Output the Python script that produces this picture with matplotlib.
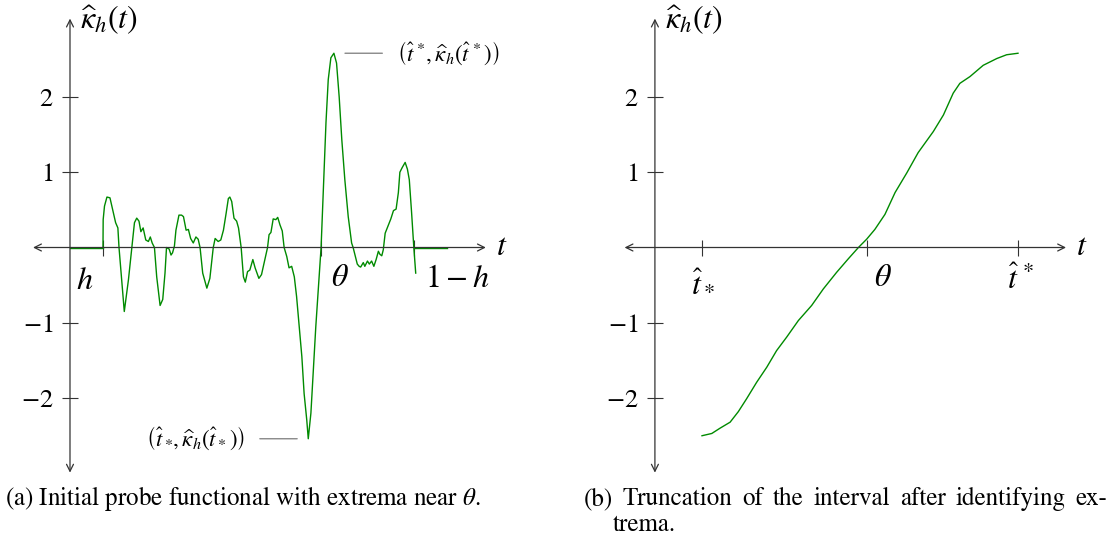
import numpy as np
import matplotlib
matplotlib.use('Agg')
import matplotlib.pyplot as plt

plt.rcParams['mathtext.fontset'] = 'stix'
plt.rcParams['font.family'] = 'STIXGeneral'

# dati (a): t in [0, 1]
h = 0.0875
theta = 0.666
t_a = [0.0875, 0.088, 0.0915, 0.098, 0.106, 0.115, 0.121, 0.127, 0.130, 0.137, 0.144,
       0.155, 0.164, 0.171, 0.177, 0.183, 0.188, 0.194, 0.201, 0.208, 0.213, 0.218,
       0.224, 0.230, 0.239, 0.246, 0.252, 0.256, 0.263, 0.268, 0.272, 0.277, 0.281,
       0.289, 0.296, 0.301, 0.308, 0.314, 0.320, 0.327, 0.334, 0.340, 0.345, 0.352,
       0.363, 0.371, 0.380, 0.385, 0.393, 0.400, 0.407, 0.414, 0.420, 0.424, 0.429,
       0.435, 0.442, 0.447, 0.454, 0.460, 0.465, 0.471, 0.477, 0.485, 0.491, 0.501,
       0.508, 0.517, 0.524, 0.528, 0.533, 0.539, 0.546, 0.551, 0.557, 0.563, 0.568,
       0.575, 0.581, 0.588, 0.595, 0.601, 0.607, 0.615, 0.621, 0.628, 0.632, 0.639,
       0.645, 0.652, 0.659, 0.666, 0.672, 0.679, 0.685, 0.692, 0.700, 0.707, 0.714,
       0.721, 0.729, 0.738, 0.747, 0.751, 0.757, 0.762, 0.767, 0.771, 0.778, 0.782,
       0.789, 0.794, 0.800, 0.806, 0.812, 0.818, 0.822, 0.827, 0.831, 0.836, 0.844,
       0.851, 0.858, 0.865, 0.871, 0.875, 0.881, 0.889, 0.895, 0.900, 0.906, 0.912,
       0.917]
k_a = [0.0, 0.37, 0.55, 0.67, 0.66, 0.46, 0.33, 0.26, 0.0, -0.43, -0.85,
       -0.43, 0.0, 0.33, 0.39, 0.35, 0.21, 0.26, 0.10, 0.08, 0.14, 0.06,
       0.0, -0.39, -0.77, -0.69, -0.34, 0.0, -0.02, -0.10, -0.07, 0.02, 0.23,
       0.43, 0.43, 0.41, 0.23, 0.24, 0.12, 0.06, 0.14, 0.11, 0.0, -0.34,
       -0.54, -0.41, 0.0, 0.12, 0.08, 0.10, 0.23, 0.45, 0.65, 0.67, 0.61,
       0.39, 0.35, 0.26, 0.0, -0.39, -0.46, -0.32, -0.30, -0.16, -0.27, -0.41,
       -0.36, -0.16, 0.0, 0.17, 0.20, 0.38, 0.37, 0.40, 0.30, 0.22, 0.0,
       -0.12, -0.27, -0.25, -0.39, -0.65, -1.00, -1.45, -1.94, -2.29, -2.54, -2.20,
       -1.67, -1.05, -0.52, 0.0, 0.77, 1.66, 2.23, 2.52, 2.58, 2.45, 2.00,
       1.43, 0.90, 0.41, 0.06, 0.0, -0.12, -0.22, -0.25, -0.26, -0.20, -0.25,
       -0.18, -0.22, -0.18, -0.25, -0.16, -0.05, -0.09, -0.11, -0.03, 0.19, 0.29,
       0.38, 0.49, 0.51, 0.73, 1.00, 1.06, 1.13, 1.04, 0.90, 0.47, 0.0,
       -0.34]

# dati del grafico (b): posizione relativa in [t_*, t^*]
theta_b = 0.522
s_b = [0.0, 0.031, 0.057, 0.089, 0.115, 0.141, 0.173, 0.205, 0.236, 0.268, 0.305,
       0.347, 0.384, 0.426, 0.463, 0.495, 0.521, 0.547, 0.579, 0.611, 0.648, 0.684,
       0.732, 0.764, 0.795, 0.816, 0.848, 0.890, 0.933, 0.964, 1.0]
k_b = [-2.50, -2.47, -2.40, -2.32, -2.18, -2.01, -1.79, -1.59, -1.37, -1.19, -0.97,
       -0.77, -0.55, -0.33, -0.15, 0.0, 0.11, 0.24, 0.44, 0.73, 0.99, 1.26,
       1.54, 1.76, 2.05, 2.18, 2.27, 2.42, 2.51, 2.56, 2.58]

yticks = [-2, -1, 1, 2]
ytick_labels = [r'$-2$', r'$-1$', r'$1$', r'$2$']

verde = '#008a00'
nero = '#333333'
freccia = dict(arrowstyle='<->,head_length=0.5,head_width=0.25', lw=0.9,
               color=nero, shrinkA=0, shrinkB=0)

fig = plt.figure(figsize=(11.15, 5.45), dpi=100)
ax1 = fig.add_axes([0.01206, 0.09688, 0.45646, 0.89798])
ax2 = fig.add_axes([0.54457, 0.09688, 0.45345, 0.89798])

def assi(ax, x0, xlo, xhi, xticks):
    ax.set_ylim(-3.25, 3.25)
    for sp in ax.spines.values():
        sp.set_visible(False)
    ax.spines['left'].set_position(('data', x0))
    ax.spines['bottom'].set_position(('data', 0))
    ax.set_xticks(xticks)
    ax.set_xticklabels([])
    ax.set_yticks(yticks, ytick_labels, fontsize=19)
    ax.tick_params(direction='inout', length=11.5, width=0.8, color=nero, pad=6)
    ax.annotate('', xy=(xhi, 0), xytext=(xlo, 0), arrowprops=freccia)
    ax.annotate('', xy=(x0, 3.04), xytext=(x0, -2.99), arrowprops=freccia)
    ax.annotate(r'$\widehat{\kappa}_h(t)$', xy=(x0, 3.04), xytext=(10, -2),
                textcoords='offset pixels', ha='left', va='center', fontsize=23)
    ax.annotate(r'$t$', xy=(xhi, 0), xytext=(10, 0), textcoords='offset pixels',
                ha='left', va='center', fontsize=23)

# (a)
ax1.set_xlim(-0.15, 1.2)
assi(ax1, 0, -0.098, 1.103, [h, theta, 1 - h])
ax1.plot([0, h], [0, 0], color=verde, lw=1.0)
ax1.plot([1 - h, 1], [0, 0], color=verde, lw=1.0)
ax1.plot(t_a, k_a, color=verde, lw=1.0)
for lab, x, dx, dy in [(r'$h$', h, -18, -34), (r'$\theta$', theta, 19, -31),
                       (r'$1-h$', 1 - h, 43, -32)]:
    ax1.annotate(lab, xy=(x, 0), xytext=(dx, dy), textcoords='offset pixels',
                 ha='center', va='center', fontsize=23)

i_max = int(np.argmax(k_a))
i_min = int(np.argmin(k_a))
linea = dict(arrowstyle='-', color='#888888', lw=1.0, shrinkA=8.5, shrinkB=8)
ax1.annotate(r'$\left(\widehat{t}^{\,*}\!,\widehat{\kappa}_h(\widehat{t}^{\,*})\right)$',
             xy=(t_a[i_max], k_a[i_max]), xytext=(63, 0), textcoords='offset pixels',
             ha='left', va='center', fontsize=16.5, arrowprops=linea)
ax1.annotate(r'$\left(\widehat{t}_*\!,\widehat{\kappa}_h(\widehat{t}_*)\right)$',
             xy=(t_a[i_min], k_a[i_min]), xytext=(-63, 0), textcoords='offset pixels',
             ha='right', va='center', fontsize=16.5, arrowprops=linea)

# (b)
ax2.set_xlim(-0.3, 1.3)
assi(ax2, -0.149, -0.245, 1.152, [0, theta_b, 1])
ax2.plot(s_b, k_b, color=verde, lw=1.0)
for lab, x, dx, dy in [(r'$\widehat{t}_*$', 0, 1, -36), (r'$\theta$', theta_b, 16, -31),
                       (r'$\widehat{t}^{\,*}$', 1, 2, -33)]:
    ax2.annotate(lab, xy=(x, 0), xytext=(dx, dy), textcoords='offset pixels',
                 ha='center', va='center', fontsize=23)

# didascalie
W, H = 1115, 545
fig.text(5 / W, 1 - 505 / H, r'(a) Initial probe functional with extrema near $\theta$.',
         fontsize=18, va='baseline', ha='left')

# riga giustificata come in LaTeX
parole = '(b) Truncation of the interval after identifying ex-'.split()
x_start, x_end = 584, 1107
renderer = fig.canvas.get_renderer()
testi = [fig.text(0, 1 - 505 / H, p, fontsize=18, va='baseline', ha='left') for p in parole]
larg = [t.get_window_extent(renderer).width for t in testi]
gap = (x_end - x_start - sum(larg)) / (len(parole) - 1)
x = x_start
for t, w in zip(testi, larg):
    t.set_x(x / W)
    x += w + gap
fig.text(613 / W, 1 - 531 / H, 'trema.', fontsize=18, va='baseline', ha='left')

fig.savefig('out.png', dpi=100)
